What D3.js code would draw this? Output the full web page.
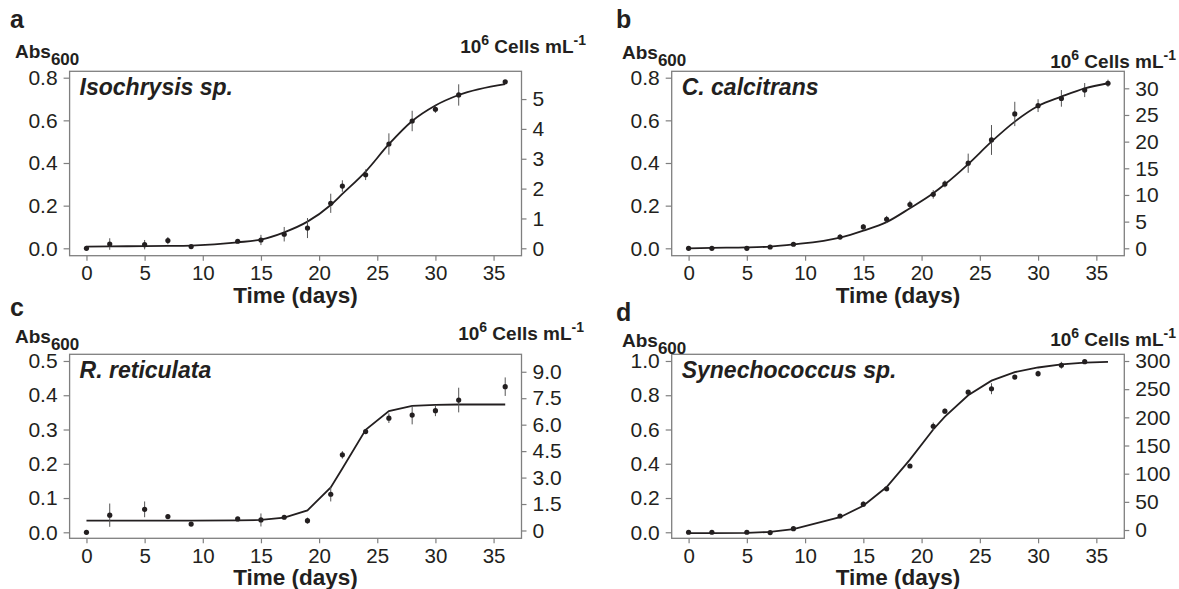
<!DOCTYPE html>
<html>
<head>
<meta charset="utf-8">
<script src="https://cdn.jsdelivr.net/npm/d3@7"></script>
<style>
  html, body { margin: 0; padding: 0; background: #fff; }
  svg { display: block; font-family: "Liberation Sans", Arial, sans-serif; }
  .tick text { fill: #231f20; }
</style>
</head>
<body>
<svg id="chart" width="1179" height="589"></svg>
<script>
// ---------- data ----------
const daysA = [0, 2, 5, 7, 9, 13, 15, 17, 19, 21, 22, 24, 26, 28, 30, 32, 36];
const absA  = [0.000, 0.020, 0.017, 0.036, 0.008, 0.033, 0.039, 0.066, 0.095, 0.211, 0.292, 0.345, 0.489, 0.597, 0.652, 0.719, 0.781];
const errA  = [0.004, 0.027, 0.022, 0.017, 0.005, 0.008, 0.024, 0.034, 0.047, 0.045, 0.027, 0.025, 0.050, 0.048, 0.017, 0.050, 0.005];
const fitA  = [0.008, 0.009, 0.010, 0.011, 0.013, 0.028, 0.041, 0.075, 0.125, 0.203, 0.255, 0.360, 0.488, 0.597, 0.670, 0.719, 0.770];

const daysB = [0, 2, 5, 7, 9, 13, 15, 17, 19, 21, 22, 24, 26, 28, 30, 32, 34, 36];
const absB  = [0.000, 0.000, 0.000, 0.006, 0.019, 0.053, 0.100, 0.136, 0.205, 0.253, 0.302, 0.399, 0.508, 0.630, 0.669, 0.703, 0.742, 0.774];
const errB  = [0.004, 0.004, 0.004, 0.005, 0.005, 0.013, 0.013, 0.016, 0.018, 0.020, 0.016, 0.045, 0.070, 0.057, 0.030, 0.039, 0.033, 0.017];
const fitB  = [0.000, 0.002, 0.004, 0.008, 0.018, 0.050, 0.083, 0.123, 0.188, 0.258, 0.300, 0.395, 0.500, 0.594, 0.667, 0.711, 0.750, 0.774];

const daysC = [0, 2, 5, 7, 9, 13, 15, 17, 19, 21, 22, 24, 26, 28, 30, 32, 36];
const absC  = [0.000, 0.050, 0.067, 0.046, 0.024, 0.039, 0.036, 0.044, 0.034, 0.111, 0.226, 0.294, 0.333, 0.342, 0.355, 0.386, 0.425];
const errC  = [0.003, 0.034, 0.023, 0.006, 0.004, 0.004, 0.019, 0.006, 0.009, 0.021, 0.011, 0.006, 0.014, 0.027, 0.016, 0.036, 0.027];
const fitC  = [0.034, 0.034, 0.034, 0.034, 0.034, 0.035, 0.036, 0.043, 0.064, 0.131, 0.186, 0.299, 0.354, 0.369, 0.372, 0.373, 0.373];

const daysD = [0, 2, 5, 7, 9, 13, 15, 17, 19, 21, 22, 24, 26, 28, 30, 32, 34];
const absD  = [0.000, 0.000, 0.000, -0.002, 0.021, 0.095, 0.164, 0.254, 0.387, 0.619, 0.707, 0.818, 0.838, 0.906, 0.926, 0.975, 0.996];
const errD  = [0.003, 0.003, 0.003, 0.003, 0.006, 0.008, 0.015, 0.015, 0.006, 0.022, 0.015, 0.010, 0.032, 0.010, 0.017, 0.020, 0.008];
const fitDays = [0, 2, 5, 7, 9, 13, 15, 17, 19, 21, 22, 24, 26, 28, 30, 32, 34, 36];
const fitD  = [-0.005, -0.005, -0.003, 0.002, 0.018, 0.088, 0.155, 0.264, 0.424, 0.600, 0.675, 0.800, 0.885, 0.935, 0.962, 0.980, 0.990, 0.995];

const xTicks = [0, 5, 10, 15, 20, 25, 30, 35];
const leftTicksAB = [0.0, 0.2, 0.4, 0.6, 0.8];
const leftTicksC  = [0.0, 0.1, 0.2, 0.3, 0.4, 0.5];
const leftTicksD  = [0.0, 0.2, 0.4, 0.6, 0.8, 1.0];
const rightTicksA = [0, 1, 2, 3, 4, 5];
const rightTicksB = [0, 5, 10, 15, 20, 25, 30];
const rightTicksC = [0, 1.5, 3.0, 4.5, 6.0, 7.5, 9.0];
const rightTicksD = [0, 50, 100, 150, 200, 250, 300];
const species = ["Isochrysis sp.", "C. calcitrans", "R. reticulata", "Synechococcus sp."];
const letters = ["a", "b", "c", "d"];

// ---------- layout ----------
const panels = [
  { days: daysA, abs: absA, err: errA, fitX: daysA, fit: fitA, smooth: true,
    box: [69.6, 71.3, 521.5, 255.7], yDom: [-0.0347, 0.830], rDom: [-0.248, 5.93],
    lt: leftTicksAB, rt: rightTicksA, rFmt: d => String(d),
    letterY: 28, absY: 58, cellsY: 53, cellsX: 586, spY: 95 },
  { days: daysB, abs: absB, err: errB, fitX: daysB, fit: fitB, smooth: true,
    box: [671.7, 71.3, 1124.3, 255.7], yDom: [-0.0347, 0.830], rDom: [-1.39, 33.19],
    lt: leftTicksAB, rt: rightTicksB, rFmt: d => String(d),
    letterY: 28, absY: 59, cellsY: 68, cellsX: 1176, spY: 95 },
  { days: daysC, abs: absC, err: errC, fitX: daysC, fit: fitC, smooth: false,
    box: [69.6, 354.3, 521.5, 538.3], yDom: [-0.0175, 0.5195], rDom: [-0.443, 9.99],
    lt: leftTicksC, rt: rightTicksC, rFmt: d => d === 0 ? "0" : d.toFixed(1),
    letterY: 316, absY: 343, cellsY: 340, cellsX: 584, spY: 378 },
  { days: daysD, abs: absD, err: errD, fitX: fitDays, fit: fitD, smooth: false,
    box: [671.7, 354.3, 1124.3, 538.3], yDom: [-0.0352, 1.039], rDom: [-14.7, 311.9],
    lt: leftTicksD, rt: rightTicksD, rFmt: d => String(d),
    letterY: 321, absY: 347, cellsY: 346, cellsX: 1176, spY: 378 }
];

const svg = d3.select("#chart");
const ink = "#231f20";
const axisGray = "#7f7f7f";

panels.forEach((p, i) => {
  const [x0, y0, x1, y1] = p.box;
  const x = d3.scaleLinear().domain([-1.45, 37.4]).range([x0, x1]);
  const y = d3.scaleLinear().domain(p.yDom).range([y1, y0]);
  const yr = d3.scaleLinear().domain(p.rDom).range([y1, y0]);
  const g = svg.append("g");

  // box
  g.append("rect").attr("x", x0).attr("y", y0).attr("width", x1 - x0).attr("height", y1 - y0)
    .attr("fill", "none").attr("stroke", axisGray).attr("stroke-width", 1.3);

  // axes
  const styleAxis = (sel, fs) => {
    sel.select(".domain").remove();
    sel.selectAll(".tick line").attr("stroke", axisGray).attr("stroke-width", 1.2);
    sel.selectAll(".tick text").attr("fill", ink).style("font-size", fs + "px");
  };
  g.append("g").attr("transform", `translate(${x0},0)`)
    .call(d3.axisLeft(y).tickValues(p.lt).tickFormat(d => d.toFixed(1)).tickSize(6).tickPadding(6))
    .call(styleAxis, 21);
  g.append("g").attr("transform", `translate(${x1},0)`)
    .call(d3.axisRight(yr).tickValues(p.rt).tickFormat(p.rFmt).tickSize(5).tickPadding(6))
    .call(styleAxis, 21);
  const xa = g.append("g").attr("transform", `translate(0,${y1})`)
    .call(d3.axisBottom(x).tickValues(xTicks).tickFormat(d3.format("d")).tickSize(5).tickPadding(5))
    .call(styleAxis, 20.5);
  xa.selectAll(".tick text").attr("dy", "0.71em");

  // fitted line
  const line = d3.line().x((d, k) => x(p.fitX[k])).y(d => y(d))
    .curve(p.smooth ? d3.curveMonotoneX : d3.curveLinear);
  g.append("path").datum(p.fit).attr("d", line)
    .attr("fill", "none").attr("stroke", ink).attr("stroke-width", 1.8);

  // error bars
  g.selectAll(".err").data(p.abs).enter().append("line")
    .attr("x1", (d, k) => x(p.days[k])).attr("x2", (d, k) => x(p.days[k]))
    .attr("y1", (d, k) => y(d - p.err[k])).attr("y2", (d, k) => y(d + p.err[k]))
    .attr("stroke", "#555").attr("stroke-width", 1);

  // points
  g.selectAll(".pt").data(p.abs).enter().append("circle")
    .attr("cx", (d, k) => x(p.days[k])).attr("cy", d => y(d)).attr("r", 2.6)
    .attr("fill", ink);

  // labels
  g.append("text").attr("x", i % 2 === 0 ? 10 : 616).attr("y", p.letterY)
    .attr("font-size", 25).attr("font-weight", "bold").attr("fill", ink).text(letters[i]);

  const abs = g.append("text").attr("x", i % 2 === 0 ? 15 : 622).attr("y", p.absY)
    .attr("font-size", 19).attr("font-weight", "bold").attr("fill", ink);
  abs.append("tspan").text("Abs");
  abs.append("tspan").attr("font-size", 17).attr("dy", 7).text("600");

  const cells = g.append("text").attr("x", p.cellsX).attr("y", p.cellsY).attr("text-anchor", "end")
    .attr("font-size", 19).attr("font-weight", "bold").attr("fill", ink);
  cells.append("tspan").text("10");
  cells.append("tspan").attr("font-size", 14).attr("dy", -8).text("6");
  cells.append("tspan").attr("dy", 8).text(" Cells mL");
  cells.append("tspan").attr("font-size", 14).attr("dy", -8).text("-1");

  g.append("text").attr("x", x0 + 10).attr("y", p.spY)
    .attr("font-size", 23).attr("font-weight", "bold").attr("font-style", "italic")
    .attr("fill", ink).text(species[i]);

  g.append("text").attr("x", (x0 + x1) / 2).attr("y", y1 + 47).attr("text-anchor", "middle")
    .attr("font-size", 22.5).attr("font-weight", "bold").attr("fill", ink).text("Time (days)");
});
</script>
</body>
</html>
